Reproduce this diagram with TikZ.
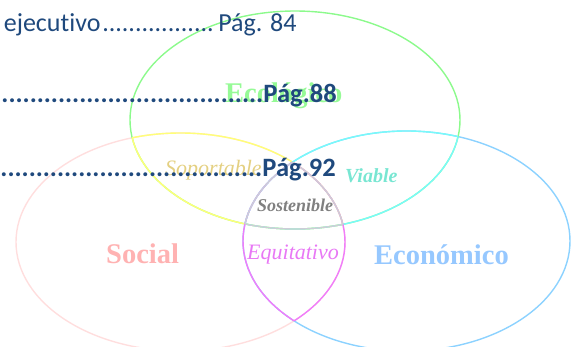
\documentclass[tikz,border=0pt]{standalone}
\usepackage{fontspec}
\setmainfont{Liberation Serif}
\newfontfamily\carlito[Ligatures=NoCommon]{Carlito}
\definecolor{indexblue}{RGB}{31,73,125}
\definecolor{ecolgreen}{RGB}{140,250,140}
\definecolor{soportyellow}{RGB}{255,255,120}
\definecolor{viablecyan}{RGB}{120,250,250}
\definecolor{econblue}{RGB}{140,210,255}
\definecolor{socpink}{RGB}{255,222,222}
\definecolor{equimagenta}{RGB}{240,125,250}
\definecolor{sostgray}{RGB}{205,205,215}
\newcommand{\ecolpath}{(295,120) ellipse (165pt and 109pt)}
\newcommand{\socpath}{(180.5,242) ellipse (164.5pt and 109pt)}
\newcommand{\econpath}{(406.5,241) ellipse (163.5pt and 110pt)}
\tikzset{
  venn/.style={line width=1.4pt},
  pagetext/.style={inner sep=0pt,text=indexblue,font=\carlito\fontsize{26}{30}\selectfont},
  pagebold/.style={pagetext,font=\carlito\bfseries\fontsize{26.5}{30}\selectfont},
  bigname/.style={inner sep=0pt,anchor=base west,font=\bfseries\fontsize{28.5}{32}\selectfont},
  smallname/.style={inner sep=0pt,anchor=base west,font=\itshape\fontsize{22}{26}\selectfont}
}

\begin{document}
\begin{tikzpicture}[x=1pt,y=-1pt]
\useasboundingbox (0,0) rectangle (571,346);
\clip (0,0) rectangle (571,346);

\draw [venn,socpink] \socpath;
\draw [venn,econblue] \econpath;
\draw [venn,ecolgreen] \ecolpath;

\begin{scope}
 \clip \socpath;
 \draw [venn,soportyellow] \ecolpath;
\end{scope}
\begin{scope}
 \clip \ecolpath;
 \draw [venn,soportyellow] \socpath;
\end{scope}
\begin{scope}
 \clip \econpath;
 \draw [venn,viablecyan] \ecolpath;
\end{scope}
\begin{scope}
 \clip \ecolpath;
 \draw [venn,viablecyan] \econpath;
\end{scope}
\begin{scope}
 \clip \econpath;
 \draw [venn,equimagenta] \socpath;
\end{scope}
\begin{scope}
 \clip \socpath;
 \draw [venn,equimagenta] \econpath;
\end{scope}

\begin{scope}
 \clip \socpath; \clip \econpath;
 \draw [venn,sostgray] \ecolpath;
\end{scope}
\begin{scope}
 \clip \ecolpath; \clip \econpath;
 \draw [venn,sostgray] \socpath;
\end{scope}
\begin{scope}
 \clip \ecolpath; \clip \socpath;
 \draw [venn,sostgray] \econpath;
\end{scope}

\node [bigname,text={rgb,255:red,150;green,250;blue,150}] (ecol) at (225,102.5) {Ecológico};
\node [bigname,text={rgb,255:red,255;green,178;blue,178}] (social) at (106,263) {Social};
\node [bigname,text={rgb,255:red,150;green,200;blue,255}] (econ) at (374,264) {Económico};
\node [smallname,text={rgb,255:red,228;green,208;blue,130}] (soport) at (165,175) {Soportable};
\node [smallname,text={rgb,255:red,120;green,230;blue,210},font=\bfseries\itshape\fontsize{20}{24}\selectfont] (viable) at (345,182.5) {Viable};
\node [smallname,text={rgb,255:red,128;green,128;blue,128},font=\bfseries\itshape\fontsize{18}{22}\selectfont] (sost) at (257,211.5) {Sostenible};
\node [smallname,text={rgb,255:red,232;green,120;blue,245}] (equi) at (247,259) {Equitativo};

\node [pagetext,anchor=base east] (pag84) at (297,31.5) {ejecutivo\leaders\hbox{.}\hskip 118pt Pág. 84};
\node [pagebold,anchor=base east] (pag88) at (337,102) {\leaders\hbox{.}\hskip 340pt Pág.88};
\node [pagebold,anchor=base east] (pag92) at (336,176.5) {\leaders\hbox{.}\hskip 340pt Pág.92};
\end{tikzpicture}
\end{document}
